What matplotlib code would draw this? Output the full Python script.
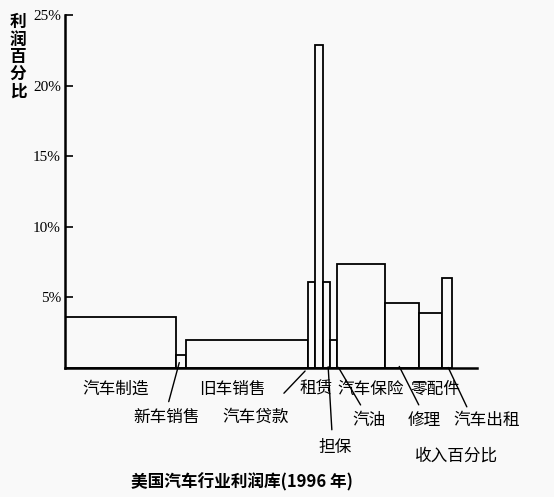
import numpy as np
import matplotlib.pyplot as plt

plt.rcParams['font.family'] = ['Noto Sans CJK SC', 'DejaVu Sans']

# 各环节：收入百分比（宽度）和利润百分比（高度）
segments = ['汽车制造', '新车销售', '旧车销售', '汽车贷款', '租赁', '担保',
            '汽油', '汽车保险', '修理', '零配件', '汽车出租']
revenue = [28.7, 2.6, 31.5, 1.9, 2.0, 1.7, 1.8, 12.4, 9.0, 5.7, 2.6]
profit = [3.6, 0.9, 2.0, 6.1, 22.9, 6.1, 2.0, 7.4, 4.6, 3.9, 6.4]

yticks = [5, 10, 15, 20, 25]
ytick_labels = ['5%', '10%', '15%', '20%', '25%']

bg = '#f9f9f9'
px = 3.87   # 每 1% 收入所占像素
py = 14.0   # 每 1% 利润所占像素


def to_data(xp, yp):
    # 图片像素坐标 -> 数据坐标
    return (xp - 65) / px, (366 - yp) / py


fig = plt.figure(figsize=(5.54, 4.97), dpi=100, facecolor=bg)
ax = fig.add_axes([65/554, 1-368/497, (477-65)/554, (368-15)/497])
ax.set_facecolor(bg)

left = np.concatenate([[0], np.cumsum(revenue)[:-1]])
ax.bar(left, profit, width=revenue, align='edge', color=bg,
       edgecolor='black', linewidth=1.3)

ax.set_xlim(0, (477-65)/px)
ax.set_ylim(0, 25)
ax.set_xticks([])
ax.set_yticks(yticks)
ax.set_yticklabels(ytick_labels, family='Liberation Serif', fontsize=11)
ax.tick_params(axis='y', direction='in', length=6, width=1.2, pad=3)
for s in ['top', 'right']:
    ax.spines[s].set_visible(False)
for s in ['left', 'bottom']:
    ax.spines[s].set_linewidth(1.8)

# 直接标注在下方的标签
direct = {'汽车制造': (116, 387), '旧车销售': (232, 387), '租赁': (316, 387),
          '汽车保险': (371, 387), '零配件': (435, 387)}
for name, (xp, yp) in direct.items():
    x, y = to_data(xp, yp)
    ax.text(x, y, name, ha='center', va='center', fontsize=12, clip_on=False)

# 带指引线的标签：文字位置、线起点、线终点
pointed = {
    '新车销售': ((167, 415), (168, 402), (180, 358)),
    '汽车贷款': ((256, 415), (282, 393), (307, 367)),
    '担保': ((335, 445), (332, 430), (328, 362)),
    '汽油': ((369, 418), (362, 405), (337, 363)),
    '修理': ((424, 418), (420, 405), (398, 362)),
    '汽车出租': ((487, 418), (468, 407), (447, 363)),
}
for name, (tp, p0, p1) in pointed.items():
    x, y = to_data(*tp)
    ax.text(x, y, name, ha='center', va='center', fontsize=12, clip_on=False)
    ax.annotate('', xy=to_data(*p1), xytext=to_data(*p0),
                arrowprops=dict(arrowstyle='-', color='black', lw=1.0),
                annotation_clip=False)

x, y = to_data(457, 453)
ax.text(x, y, '收入百分比', ha='center', va='center', fontsize=12, clip_on=False)

fig.text(18/554, 1-57/497, '利\n润\n百\n分\n比', ha='center', va='center',
         fontsize=12, fontweight='bold', linespacing=0.95)

fig.text(242/554, 1-482/497, '美国汽车行业利润库(1996 年)', ha='center',
         va='center', fontsize=12, fontweight='bold')

fig.savefig('out.png', dpi=100, facecolor=bg)
